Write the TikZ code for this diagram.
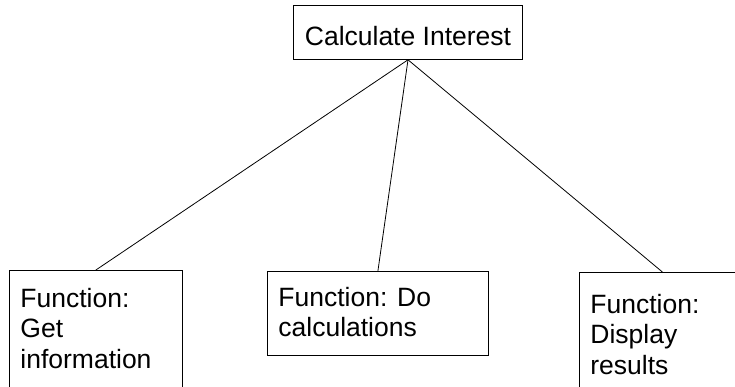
\documentclass[tikz,border=0pt]{standalone}
\usepackage{fontspec}
\setmainfont{Liberation Sans}
\hyphenpenalty=10000
\tikzset{
  boxfont/.style={font=\fontsize{26.5}{30.5}\selectfont},
  topbox/.style={draw, rectangle, boxfont, anchor=north, inner xsep=11pt, inner ysep=0pt, minimum width=228pt},
  funcbox/.style={draw, rectangle, boxfont, anchor=north west, align=flush left, inner sep=11pt},
}

\begin{document}
\begin{tikzpicture}[x=1pt,y=-1pt,line width=0.8pt]
     \useasboundingbox (0,0) rectangle (735,387);

     \node[topbox, text height=40pt, text depth=14pt] (calc) at (408,5) {Calculate Interest};

     \node[funcbox, text width=151pt, text height=26pt, text depth=120pt] (getinfo) at (9,270) {Function: Get information};
     \node[funcbox, text width=199pt, text height=24pt, text depth=38pt] (docalc) at (267,271) {Function: Do calculations};
     \node[funcbox, text width=144pt, text height=30pt, text depth=120pt] (display) at (579,272) {Function: Display results};

     \draw (calc.south) -- (getinfo.north);
     \draw (calc.south) -- (docalc.north);
     \draw (calc.south) -- (display.north);
\end{tikzpicture}
\end{document}
